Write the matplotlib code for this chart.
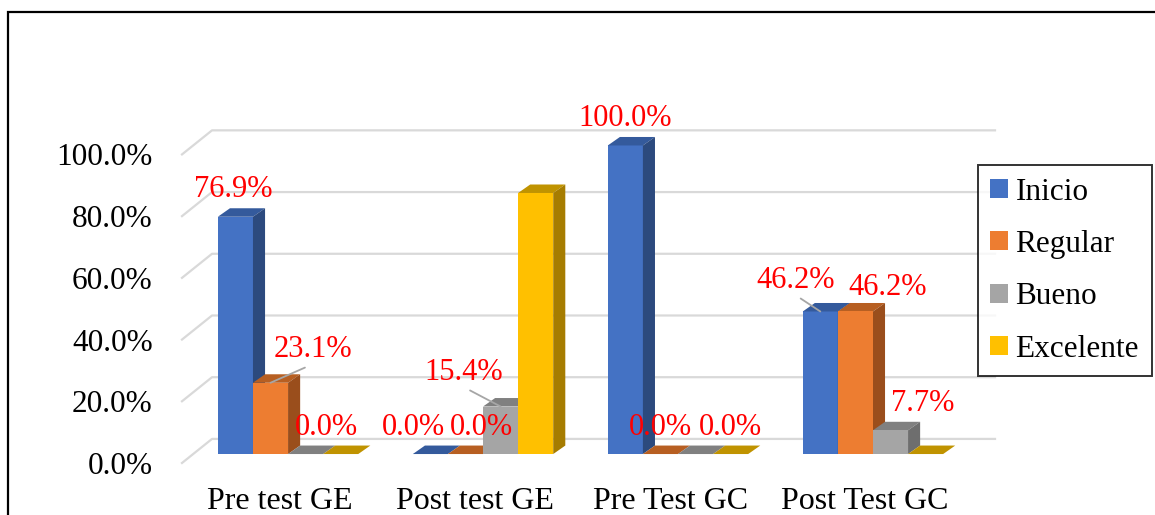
import numpy as np
import matplotlib
matplotlib.use("Agg")
import matplotlib.pyplot as plt
from matplotlib.patches import Polygon, Rectangle

plt.rcParams["font.family"] = ["Liberation Serif", "DejaVu Serif"]

categories = ["Pre test GE", "Post test GE", "Pre Test GC", "Post Test GC"]
series = ["Inicio", "Regular", "Bueno", "Excelente"]
inicio = [76.9, 0.0, 100.0, 46.2]
regular = [23.1, 0.0, 0.0, 46.2]
bueno = [0.0, 15.4, 0.0, 7.7]
excelente = [0.0, 84.6, 0.0, 0.0]
values = [inicio, regular, bueno, excelente]
yticks = [0, 20, 40, 60, 80, 100]
ytick_labels = ["0.0%", "20.0%", "40.0%", "60.0%", "80.0%", "100.0%"]

# colores: frente, lateral, tapa
front = ["#4472C4", "#ED7D31", "#A5A5A5", "#FFC000"]
side = ["#2C4A7E", "#9A4E1C", "#6E6E6E", "#A67C00"]
top = ["#345A9C", "#B75F22", "#808080", "#C09300"]

# etiquetas visibles (serie, grupo) -> desplazamiento en pixeles, con linea guia
labels = {
    (0, 0): (-2, 27, False), (1, 0): (42, 33, True), (2, 0): (21, 27, False),
    (0, 1): (-17, 27, False), (1, 1): (16, 27, False), (2, 1): (-37, 34, True),
    (0, 2): (0, 27, False), (1, 2): (0, 27, False), (2, 2): (35, 27, False),
    (0, 3): (-25, 31, True), (1, 3): (32, 24, False), (2, 3): (32, 27, False),
}

W = 0.18          # ancho de barra (unidades de grupo)
DX, DY = 0.062, 2.75      # profundidad de barra
WX, WY = 0.154, 7.8       # profundidad del plano de la grilla
FRONT = -2.9              # desplazamiento del extremo frontal de la grilla

fig = plt.figure(figsize=(11.55, 5.15), dpi=100)
ax = fig.add_axes([182 / 1155, 0.1004, 813 / 1155, 0.6483])
ax.set_xlim(-0.544, 3.626)
ax.set_ylim(-3.0, 105.2)
for s in ax.spines.values():
    s.set_visible(False)

x0, x1 = ax.get_xlim()
for v in yticks:
    ax.plot([x0, x0 + WX, x1], [v + FRONT, v + FRONT + WY, v + FRONT + WY],
            color="#d9d9d9", lw=1.6, zorder=0, clip_on=False)

x = np.arange(len(categories))
for si, vals in enumerate(values):
    xs = x + (si - 1.5) * W
    ax.bar(xs, vals, width=W, color=front[si], zorder=2 + si * 0.01, label=series[si])
    for gi, (xc, v) in enumerate(zip(xs, vals)):
        l, r = xc - W / 2, xc + W / 2
        ax.add_patch(Polygon([(l, v), (r, v), (r + DX, v + DY), (l + DX, v + DY)],
                             closed=True, color=top[si], lw=0, zorder=2, clip_on=False))
        if v > 0:
            ax.add_patch(Polygon([(r, 0), (r + DX, DY), (r + DX, v + DY), (r, v)],
                                 closed=True, color=side[si], lw=0, zorder=2, clip_on=False))
        if (si, gi) in labels:
            ox, oy, lead = labels[(si, gi)]
            kw = {}
            if lead:
                kw["arrowprops"] = dict(arrowstyle="-", color="#a6a6a6", lw=1.3,
                                        shrinkA=1, shrinkB=0, relpos=(0.5, 0.0))
            ax.annotate(f"{v:.1f}%", xy=(xc, v), xytext=(ox, oy),
                        textcoords="offset pixels", ha="center", va="center",
                        color="red", fontsize=22, zorder=5,
                        annotation_clip=False, **kw)

ax.set_yticks(np.array(yticks) + FRONT, ytick_labels)
ax.set_xticks(x - 0.04, categories)
ax.tick_params(axis="y", length=0, pad=21, labelsize=22.5)
ax.tick_params(axis="x", length=0, pad=17, labelsize=23)

leg = ax.legend(loc="upper left", bbox_to_anchor=(978 / 1155, 1 - 165 / 515),
                bbox_transform=fig.transFigure, fontsize=22.5, frameon=True,
                fancybox=False, edgecolor="black", handlelength=0.55,
                handleheight=0.55, handletextpad=0.25, labelspacing=0.75,
                borderpad=0.4, borderaxespad=0)
leg.get_frame().set_linewidth(1.4)

fig.add_artist(Rectangle((8 / 1155, -0.1), 1.2, 1.1 - 12 / 515, transform=fig.transFigure,
                         fill=False, edgecolor="black", lw=1.6, clip_on=False))

fig.savefig("out.png", dpi=100)
